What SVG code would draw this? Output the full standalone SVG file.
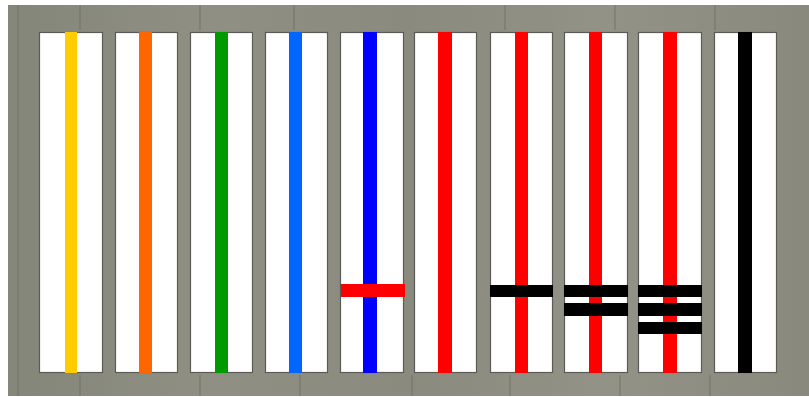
<svg xmlns="http://www.w3.org/2000/svg" width="809" height="397" viewBox="0 0 809 397">
<style>
.panel{fill:#ffffff;stroke:#5a5b55;stroke-width:1.2}
.seam{stroke:#6f7066;stroke-width:1.5;opacity:0.6}
.bar{fill:#000000}
</style>
<defs>
<linearGradient id="wood" x1="0" y1="0" x2="1" y2="0">
<stop offset="0" stop-color="#85867a"/>
<stop offset="0.25" stop-color="#8f9083"/>
<stop offset="0.5" stop-color="#8a8b7e"/>
<stop offset="0.75" stop-color="#929386"/>
<stop offset="1" stop-color="#898a7d"/>
</linearGradient>
</defs>
<rect x="0" y="0" width="809" height="397" fill="#ffffff"/>
<rect x="8" y="5" width="801" height="391" fill="url(#wood)"/>
<g id="wood-seams">
<line class="seam" x1="80" y1="5" x2="80" y2="30"/>
<line class="seam" x1="200" y1="5" x2="200" y2="30"/>
<line class="seam" x1="294" y1="5" x2="294" y2="30"/>
<line class="seam" x1="505" y1="5" x2="505" y2="30"/>
<line class="seam" x1="615" y1="5" x2="615" y2="30"/>
<line class="seam" x1="715" y1="5" x2="715" y2="30"/>
<line class="seam" x1="80" y1="375" x2="80" y2="396"/>
<line class="seam" x1="200" y1="375" x2="200" y2="396"/>
<line class="seam" x1="300" y1="375" x2="300" y2="396"/>
<line class="seam" x1="412" y1="375" x2="412" y2="396"/>
<line class="seam" x1="510" y1="375" x2="510" y2="396"/>
<line class="seam" x1="620" y1="375" x2="620" y2="396"/>
<line class="seam" x1="710" y1="375" x2="710" y2="396"/>
<line class="seam" x1="18" y1="5" x2="18" y2="396"/>
</g>
<g id="p1"><rect class="panel" x="39.5" y="32.5" width="63" height="340"/><rect x="65" y="32" width="12" height="341" fill="#ffcc00"/></g>
<g id="p2"><rect class="panel" x="115.5" y="32.5" width="62" height="340"/><rect x="139" y="32" width="13" height="341" fill="#ff6600"/></g>
<g id="p3"><rect class="panel" x="190.5" y="32.5" width="62" height="340"/><rect x="215" y="32" width="13" height="341" fill="#009900"/></g>
<g id="p4"><rect class="panel" x="265.5" y="32.5" width="62" height="340"/><rect x="289" y="32" width="13" height="341" fill="#0066ff"/></g>
<g id="p5"><rect class="panel" x="340.5" y="32.5" width="63" height="340"/><rect x="363" y="32" width="14" height="341" fill="#0000ff"/><rect x="341" y="284" width="64" height="13" fill="#ff0000"/></g>
<g id="p6"><rect class="panel" x="414.5" y="32.5" width="62" height="340"/><rect x="438" y="32" width="14" height="341" fill="#ff0000"/></g>
<g id="p7"><rect class="panel" x="490.5" y="32.5" width="62" height="340"/><rect x="515" y="32" width="13" height="341" fill="#ff0000"/><rect class="bar" x="490" y="285" width="63" height="12"/></g>
<g id="p8"><rect class="panel" x="564.5" y="32.5" width="63" height="340"/><rect x="589" y="32" width="13" height="341" fill="#ff0000"/><rect class="bar" x="564" y="285" width="64" height="12"/><rect class="bar" x="564" y="303" width="64" height="13"/></g>
<g id="p9"><rect class="panel" x="638.5" y="32.5" width="63" height="340"/><rect x="663" y="32" width="14" height="341" fill="#ff0000"/><rect class="bar" x="638" y="285" width="64" height="12"/><rect class="bar" x="638" y="303" width="64" height="13"/><rect class="bar" x="638" y="322" width="64" height="12"/></g>
<g id="p10"><rect class="panel" x="714.5" y="32.5" width="62" height="340"/><rect x="738" y="32" width="14" height="341" fill="#000000"/></g>
</svg>
